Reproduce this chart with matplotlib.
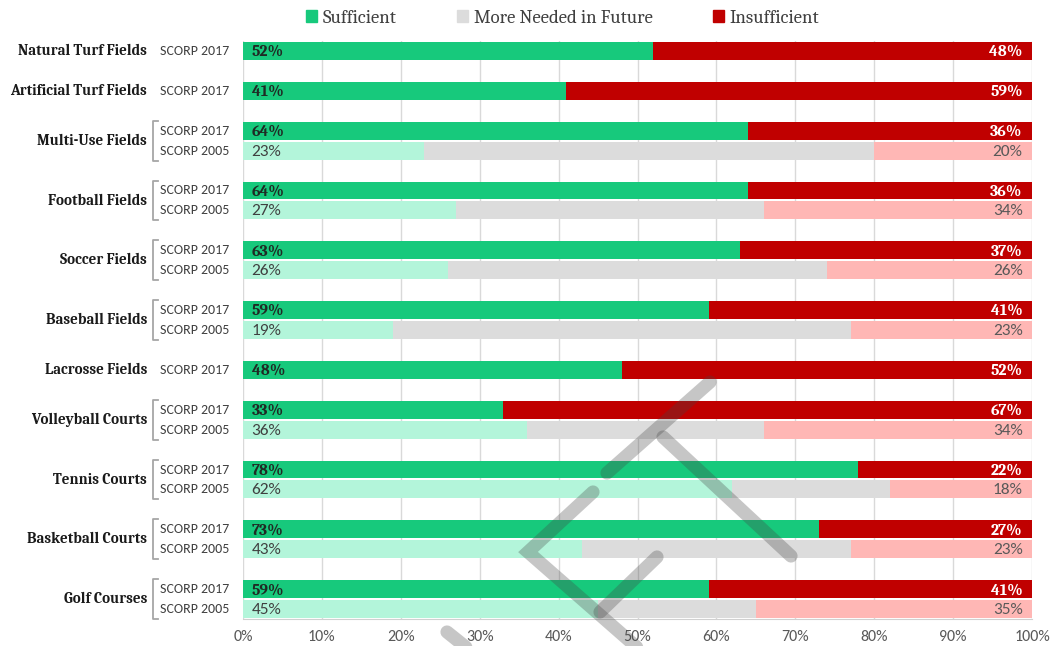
import matplotlib
matplotlib.use('Agg')
import matplotlib.pyplot as plt
from matplotlib.patches import Patch
from matplotlib.lines import Line2D
import numpy as np

# facility categories, top to bottom
categories = ['Natural Turf Fields', 'Artificial Turf Fields', 'Multi-Use Fields',
              'Football Fields', 'Soccer Fields', 'Baseball Fields', 'Lacrosse Fields',
              'Volleyball Courts', 'Tennis Courts', 'Basketball Courts', 'Golf Courses']

# SCORP 2017 survey (percent)
suff_2017 = [52, 41, 64, 64, 63, 59, 48, 33, 78, 73, 59]
insuff_2017 = [48, 59, 36, 36, 37, 41, 52, 67, 22, 27, 41]

# SCORP 2005 survey (None = not asked in 2005)
suff_2005 = [None, None, 23, 27, 26, 19, None, 36, 62, 43, 45]
future_2005 = [None, None, 57, 39, 48, 58, None, 30, 20, 34, 20]
insuff_2005 = [None, None, 20, 34, 26, 23, None, 34, 18, 23, 35]

ticks = [0, 10, 20, 30, 40, 50, 60, 70, 80, 90, 100]
legend_labels = ['Sufficient', 'More Needed in Future', 'Insufficient']

GREEN = '#17c97c'
GREEN_LT = '#b3f5da'
GRAY = '#dcdcdc'
RED = '#c00000'
RED_LT = '#ffb7b5'

SERIF = ['Caladea', 'DejaVu Serif']
SANS = ['Carlito', 'DejaVu Sans']

fig = plt.figure(figsize=(10.54, 6.46), dpi=100)
ax = fig.add_axes([243/1054, 1-619/646, 789/1054, 578/646])

# lay out rows: one slot per bar, an empty slot between groups
rows = []
pos = 0
for i, cat in enumerate(categories):
    y17 = pos
    y05 = None
    if suff_2005[i] is not None:
        y05 = pos + 1
        pos += 1
    rows.append((y17, y05))
    last = pos
    pos += 2

ytr = ax.get_yaxis_transform()
h = 0.9
for i, cat in enumerate(categories):
    y17, y05 = rows[i]
    ax.barh(y17, suff_2017[i], height=h, color=GREEN, zorder=2)
    ax.barh(y17, insuff_2017[i], left=suff_2017[i], height=h, color=RED, zorder=2)
    ax.text(1.1, y17 + 0.05, '%d%%' % suff_2017[i], ha='left', va='center',
            fontsize=11.5, fontweight='bold', family=SERIF, color='#1f2a24', zorder=3)
    ax.text(98.8, y17 + 0.05, '%d%%' % insuff_2017[i], ha='right', va='center',
            fontsize=11.5, fontweight='bold', family=SERIF, color='white', zorder=3)
    ax.text(-0.105, y17, 'SCORP 2017', transform=ytr,
            ha='left', va='center', fontsize=10, family=SANS, color='#404040')

    if y05 is not None:
        s, f, n = suff_2005[i], future_2005[i], insuff_2005[i]
        ax.barh(y05, s, height=h, color=GREEN_LT, zorder=2)
        ax.barh(y05, f, left=s, height=h, color=GRAY, zorder=2)
        ax.barh(y05, n, left=s + f, height=h, color=RED_LT, zorder=2)
        ax.text(1.1, y05 + 0.05, '%d%%' % s, ha='left', va='center',
                fontsize=12.5, family=SANS, color='#404040', zorder=3)
        ax.text(98.8, y05 + 0.05, '%d%%' % n, ha='right', va='center',
                fontsize=12.5, family=SANS, color='#595959', zorder=3)
        ax.text(-0.105, y05, 'SCORP 2005', transform=ytr,
                ha='left', va='center', fontsize=10, family=SANS, color='#404040')
        # bracket joining the two survey rows
        bx0, bx1 = -0.1145, -0.1075
        ax.plot([bx1, bx0, bx0, bx1], [y17 - 0.5, y17 - 0.5, y05 + 0.5, y05 + 0.5],
                transform=ytr, clip_on=False, color='#a6a6a6', lw=1.3)
        ycat = (y17 + y05) / 2.0
    else:
        ycat = y17

    ax.text(-0.1215, ycat, cat, transform=ytr,
            ha='right', va='center', fontsize=10.8, fontweight='bold',
            family=SERIF, color='#1a1a1a')

ax.set_xlim(0, 100)
ax.set_ylim(last + 0.5, -0.5)
ax.set_xticks(ticks)
ax.set_xticklabels(['%d%%' % t for t in ticks], family=SANS, fontsize=11.5, color='#595959')
ax.set_yticks([])
ax.tick_params(axis='x', length=0, pad=8)
ax.grid(axis='x', color='#d9d9d9', lw=1, zorder=0)
for sp in ['top', 'left', 'right']:
    ax.spines[sp].set_visible(False)
ax.spines['bottom'].set_color('#d0d0d0')

handles = [Patch(color=GREEN), Patch(color=GRAY), Patch(color=RED)]
fig.legend(handles, legend_labels, loc='center', bbox_to_anchor=(0.5337, 0.972), ncol=3,
           frameon=False, handlelength=0.6, handleheight=0.6, handletextpad=0.3,
           columnspacing=3.2, prop={'family': SERIF, 'size': 13.5},
           labelcolor='#404040')

# draft watermark strokes (figure pixels)
strokes = [
    [(607, 473), (710, 382)],
    [(663, 437), (791, 556)],
    [(593, 492), (528, 552), (640, 650)],
    [(657, 557), (600, 612)],
    [(447, 632), (472, 652)],
]
for st in strokes:
    xs = [p[0] / 1054 for p in st]
    ys = [1 - p[1] / 646 for p in st]
    fig.add_artist(Line2D(xs, ys, transform=fig.transFigure, color='#444444', alpha=0.3,
                          lw=9.5, solid_capstyle='round', solid_joinstyle='miter'))

fig.savefig('out.png', dpi=100)
